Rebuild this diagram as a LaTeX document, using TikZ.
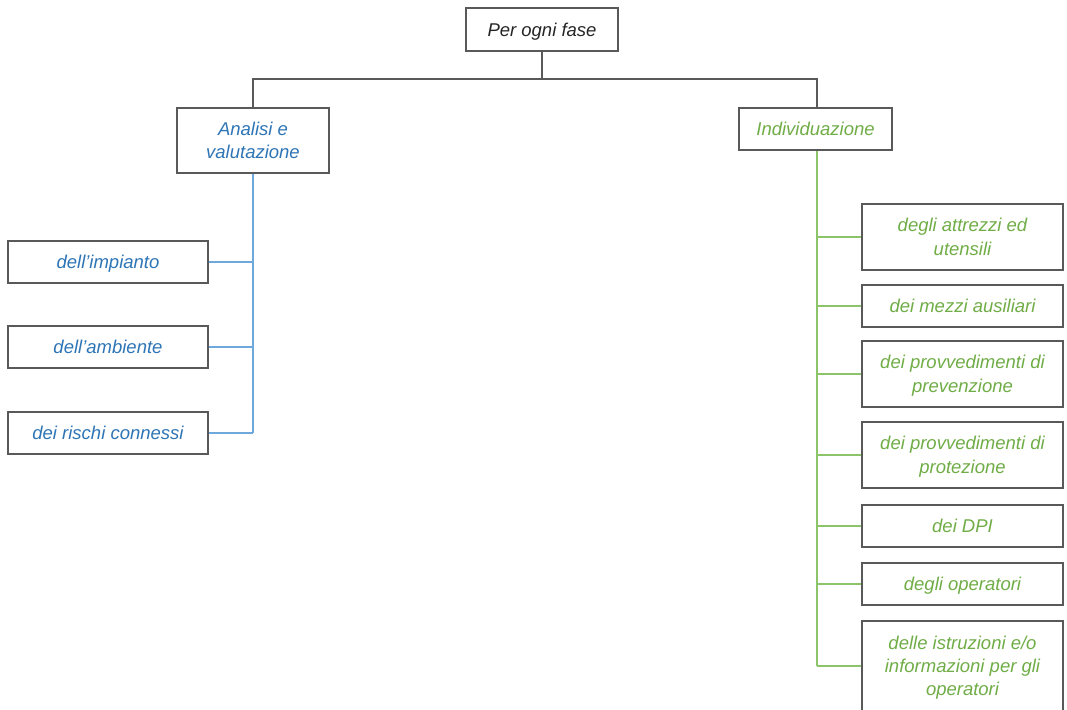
\documentclass[tikz,border=0pt]{standalone}
\usepackage{fontspec}
\setmainfont{Liberation Sans}
\definecolor{boxgray}{HTML}{595959}
\definecolor{tblue}{HTML}{2E75B6}
\definecolor{lblue}{HTML}{6FA8DC}
\definecolor{tgreen}{HTML}{70AD47}
\definecolor{lgreen}{HTML}{8CC46A}
\begin{document}
\begin{tikzpicture}[x=1pt,y=-1pt,
  box/.style={draw=boxgray,line width=2pt,fill=white,inner sep=0pt,align=center,
    font=\fontsize{18.5}{23.3}\selectfont\itshape,
    execute at begin node={\rule{0pt}{17.5pt}},
    execute at end node={\rule[-4.3pt]{0pt}{0pt}}},
  multiline/.style={text width=#1,align=flush center},
  rootbox/.style={box,text=black!85},
  bluebox/.style={box,text=tblue},
  greenbox/.style={box,text=tgreen},
  grayline/.style={draw=boxgray,line width=1.6pt},
  blueline/.style={draw=lblue,line width=1.2pt},
  greenline/.style={draw=lgreen,line width=1.2pt}]
\useasboundingbox (0,0) rectangle (1067,709);
\clip (0,0) rectangle (1067,709);
% root
\node[rootbox,minimum width=152pt,minimum height=43pt] (root) at (542,30) {Per ogni fase};
\node[bluebox,multiline=148pt,minimum width=152pt,minimum height=65pt] (ana) at (253,140.5) {Analisi e\\valutazione};
\node[greenbox,minimum width=153pt,minimum height=42pt] (ind) at (815.5,129) {Individuazione};
\coordinate (hub) at (542,79);
\draw[grayline] (root.south) -- (hub);
\draw[grayline] (ana.north) |- (hub) -| (ind.north -| 817,0);
% left children
\node[bluebox,minimum width=200pt,minimum height=42pt] (l1) at (108,262) {dell’impianto};
\node[bluebox,minimum width=200pt,minimum height=42pt] (l2) at (108,347) {dell’ambiente};
\node[bluebox,minimum width=200pt,minimum height=42pt] (l3) at (108,433) {dei rischi connessi};
\coordinate (lb) at (253,433);
\draw[blueline] (ana.south) -- (lb);
\draw[blueline] (l1.east) -- (l1.east -| lb);
\draw[blueline] (l2.east) -- (l2.east -| lb);
\draw[blueline] (l3.east) -- (lb);
% right children
\node[greenbox,multiline=197pt,minimum width=201pt,minimum height=66pt] (r1) at (962.5,237) {degli attrezzi ed\\utensili};
\node[greenbox,minimum width=201pt,minimum height=42pt] (r2) at (962.5,306) {dei mezzi ausiliari};
\node[greenbox,multiline=197pt,minimum width=201pt,minimum height=66pt] (r3) at (962.5,374) {dei provvedimenti di\\prevenzione};
\node[greenbox,multiline=197pt,minimum width=201pt,minimum height=66pt] (r4) at (962.5,455) {dei provvedimenti di\\protezione};
\node[greenbox,minimum width=201pt,minimum height=42pt] (r5) at (962.5,526) {dei DPI};
\node[greenbox,minimum width=201pt,minimum height=42pt] (r6) at (962.5,584) {degli operatori};
\node[greenbox,multiline=197pt,minimum width=201pt,minimum height=90pt] (r7) at (962.5,666) {delle istruzioni e/o\\informazioni per gli\\operatori};
\coordinate (rb) at (817,666);
\draw[greenline] (ind.south -| rb) -- (rb);
\foreach \n in {r1,r2,r3,r4,r5,r6}{\draw[greenline] (\n.west) -- (\n.west -| rb);}
\draw[greenline] (r7.west) -- (rb);
\end{tikzpicture}
\end{document}
